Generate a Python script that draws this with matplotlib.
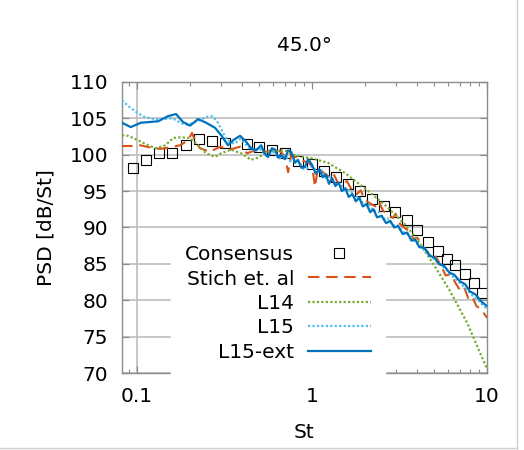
import matplotlib
matplotlib.use("Agg")
from matplotlib import pyplot as plt
from matplotlib.lines import Line2D
from matplotlib.ticker import NullFormatter
import numpy as np

# Consensus (square markers)
st_cons = [0.095, 0.113, 0.134, 0.158, 0.19, 0.225, 0.268, 0.318, 0.425, 0.50,
           0.59, 0.70, 0.83, 1.0, 1.17, 1.37, 1.6, 1.88, 2.19, 2.58, 2.97, 3.5,
           3.98, 4.58, 5.26, 5.9, 6.6, 7.5, 8.4, 9.35]
psd_cons = [98.2, 99.3, 100.2, 100.2, 101.3, 102.2, 101.9, 101.6, 101.5, 101.1,
            100.7, 100.2, 99.1, 98.7, 97.8, 96.9, 96.0, 95.0, 93.9, 93.0, 92.1, 91.0,
            89.7, 88.0, 86.8, 85.7, 84.9, 83.6, 82.4, 81.0]

# Stich et. al
st_stich = [0.081, 0.093, 0.104, 0.119, 0.135, 0.154, 0.176, 0.196, 0.206, 0.214,
            0.229, 0.261, 0.298, 0.339, 0.387, 0.425, 0.485, 0.553, 0.63, 0.70,
            0.73, 0.76, 0.82, 0.88, 0.95, 1.0, 1.04, 1.08, 1.15, 1.25, 1.32, 1.4,
            1.5, 1.58, 1.7, 1.8, 1.9, 2.0, 2.15, 2.3, 2.4, 2.55, 2.7, 2.9, 3.0,
            3.2, 3.4, 3.6, 3.8, 4.0, 4.3, 4.6, 4.8, 5.1, 5.5, 5.8, 6.2, 6.6, 7.0,
            7.4, 7.8, 8.2, 8.7, 9.2, 9.6, 10.0]
psd_stich = [101.2, 101.2, 101.3, 101.0, 100.8, 101.0, 101.3, 102.0, 103.0, 102.0,
             100.9, 100.4, 101.1, 100.7, 101.1, 100.2, 100.7, 100.4, 100.9, 99.8,
             97.6, 99.9, 99.6, 99.2, 98.9, 98.5, 95.6, 98.2, 97.6, 97.0, 97.5, 96.2,
             95.9, 96.4, 95.0, 94.6, 95.1, 93.8, 93.3, 92.9, 93.6, 92.3, 91.8, 91.3, 91.9,
             90.4, 89.9, 89.5, 88.4, 88.6, 87.3, 86.6, 85.6, 86.0, 84.6, 83.4, 83.6, 82.4, 81.4,
             81.8, 80.3, 80.6, 79.2, 78.8, 78.2, 77.6]

# L14
st_l14 = [0.082, 0.089, 0.101, 0.116, 0.128, 0.145, 0.161, 0.178, 0.201, 0.223,
          0.248, 0.279, 0.302, 0.345, 0.393, 0.448, 0.49, 0.561, 0.63, 0.70, 0.78,
          0.89, 1.0, 1.23, 1.54, 2.0, 2.61, 2.91, 3.37, 3.98, 4.9, 6.1, 7.7, 9.5, 10.0]
psd_l14 = [102.7, 102.6, 102.0, 101.3, 100.9, 101.3, 102.3, 102.4, 102.3, 101.3,
           100.2, 99.7, 100.2, 100.7, 100.2, 99.3, 99.6, 100.4, 100.5, 100.6, 100.0,
           99.7, 99.5, 98.9, 97.5, 95.4, 93.1, 92.0, 90.5, 88.4, 85.1, 81.4, 76.9, 71.8, 70.6]

# L15
st_l15 = [0.082, 0.09, 0.1, 0.11, 0.125, 0.14, 0.16, 0.18, 0.195, 0.22, 0.25, 0.27,
          0.29, 0.31, 0.33, 0.36, 0.39, 0.42, 0.45, 0.5, 0.55, 0.6, 0.65, 0.7, 0.76,
          0.83, 0.9, 1.0, 1.07, 1.13, 1.2, 1.28, 1.36, 1.45, 1.55, 1.65, 1.75, 1.85,
          1.97, 2.1, 2.25, 2.4, 2.55, 2.7, 2.9, 3.1, 3.3, 3.55, 3.8, 4.1, 4.4, 4.7,
          5.0, 5.4, 5.8, 6.2, 6.7, 7.2, 7.7, 8.3, 8.9, 9.5, 10.0]
psd_l15 = [107.5, 106.6, 105.8, 105.2, 104.9, 104.9, 105.0, 104.3, 104.1, 104.6, 105.2, 105.3,
           104.4, 103.0, 101.9, 101.5, 102.2, 101.4, 100.6, 100.9, 99.8, 100.4, 99.5, 99.9, 99.0,
           99.2, 98.0, 98.4, 97.6, 97.9, 96.8, 97.0, 95.9, 96.0, 95.1, 95.2, 94.1, 94.3,
           93.2, 93.3, 92.2, 92.2, 91.2, 91.3, 90.3, 90.3, 89.4, 89.0, 88.3, 87.5, 86.8, 86.3,
           85.6, 84.9, 84.3, 83.5, 82.8, 82.1, 81.4, 80.6, 80.0, 79.3, 78.8]

# L15-ext
st_ext = [0.082, 0.092, 0.105, 0.118, 0.132, 0.150, 0.167, 0.183, 0.201, 0.223,
          0.248, 0.279, 0.302, 0.331, 0.354, 0.388, 0.420, 0.448, 0.48, 0.512,
          0.535, 0.561, 0.59, 0.615, 0.64, 0.66, 0.70, 0.73, 0.76, 0.80, 0.83,
          0.87, 0.91, 0.95, 1.0, 1.05, 1.1, 1.15, 1.2, 1.25, 1.3, 1.36, 1.42, 1.48,
          1.55, 1.62, 1.7, 1.78, 1.86, 1.95, 2.05, 2.15, 2.25, 2.35, 2.5, 2.65, 2.8,
          2.95, 3.1, 3.3, 3.5, 3.7, 3.9, 4.1, 4.4, 4.7, 5.0, 5.3, 5.7, 6.1, 6.5,
          7.0, 7.5, 8.0, 8.6, 9.3, 10.0]
psd_ext = [104.4, 103.8, 104.4, 104.5, 104.6, 105.3, 105.6, 104.5, 104.0, 104.9,
           104.4, 103.7, 102.7, 101.3, 102.0, 102.6, 101.8, 100.9, 100.6, 101.3,
           100.2, 99.7, 100.9, 100.7, 99.6, 100.0, 99.4, 100.6, 100.4, 98.9, 99.3,
           98.2, 98.3, 99.4, 98.6, 97.4, 98.0, 96.9, 97.3, 96.0, 96.8, 95.7, 96.2, 95.0,
           95.4, 94.2, 94.6, 93.6, 94.1, 92.9, 93.2, 92.1, 92.5, 91.4, 91.6, 90.6, 90.9,
           90.0, 90.2, 89.1, 89.3, 88.2, 88.3, 87.3, 87.2, 86.1, 85.9, 85.0, 84.7, 83.8, 83.5,
           82.6, 82.2, 81.2, 80.8, 79.8, 79.2]

yticks = [70, 75, 80, 85, 90, 95, 100, 105, 110]
xticks = [0.1, 1, 10]
xticklabels = ['0.1', '1', '10']

FS = 14.5
plt.rcParams['font.family'] = 'DejaVu Sans'
plt.rcParams['font.size'] = FS

fig = plt.figure(figsize=(5.24, 4.5), dpi=100)
ax = fig.add_axes([0.2328, 0.1711, 0.6966, 0.6467])

# grid (gnuplot style)
for v in yticks:
    ax.axhline(v, color='#bdbdbd', lw=1.2, zorder=0)
ax.axvline(0.1, color='#bdbdbd', lw=1.2, zorder=0)

ax.plot(st_cons, psd_cons, ls='none', marker='s', ms=7.5, mfc='none',
        mec='black', mew=0.8, label='Consensus', zorder=2)
ax.plot(st_stich, psd_stich, color='#d95319', lw=1.5, ls=(0, (5.5, 3.2)),
        label='Stich et. al', zorder=3)
ax.plot(st_l14, psd_l14, color='#77ac30', lw=1.6, ls=(0, (1, 1)),
        label='L14', zorder=3)
ax.plot(st_l15, psd_l15, color='#4dbeee', lw=1.6, ls=(0, (1, 1)),
        label='L15', zorder=3)
ax.plot(st_ext, psd_ext, color='#0072bd', lw=1.6, label='L15-ext', zorder=4)

ax.set_xscale('log')
ax.set_xlim(0.082, 10)
ax.set_ylim(70, 110)
ax.set_xticks(xticks)
ax.set_xticklabels(xticklabels)
ax.xaxis.set_minor_formatter(NullFormatter())
ax.set_yticks(yticks)

for s in ax.spines.values():
    s.set_color('#8c8c8c')
    s.set_linewidth(1.0)
ax.tick_params(which='both', direction='in', top=True, right=True,
               color='#8c8c8c', labelsize=FS)
ax.tick_params(which='major', length=5, width=0.9, pad=10)
ax.tick_params(which='minor', length=3, width=0.8)
ax.tick_params(axis='y', which='minor', left=False, right=False)

ax.set_xlabel('St', labelpad=12)
ax.set_ylabel('PSD [dB/St]', labelpad=10)
ax.set_title('45.0°', pad=22, fontsize=FS)

leg = ax.legend(loc='lower right', bbox_to_anchor=(0.72, -0.01),
                markerfirst=False, numpoints=1, handlelength=3.1,
                handletextpad=0.7, labelspacing=0.27, borderpad=0.7,
                borderaxespad=0.0, fancybox=False, framealpha=1.0,
                facecolor='white', edgecolor='white', fontsize=FS)
leg.set_zorder(5)

# thin frame lines at the right and bottom edges of the picture
fig.add_artist(Line2D([0.987, 0.987], [0.0, 1.0], transform=fig.transFigure,
                      color='#d0d0d0', lw=1.0))
fig.add_artist(Line2D([0.0, 0.987], [0.005, 0.005], transform=fig.transFigure,
                      color='#d0d0d0', lw=1.0))

plt.savefig('out.png', dpi=100)
plt.close(fig)
